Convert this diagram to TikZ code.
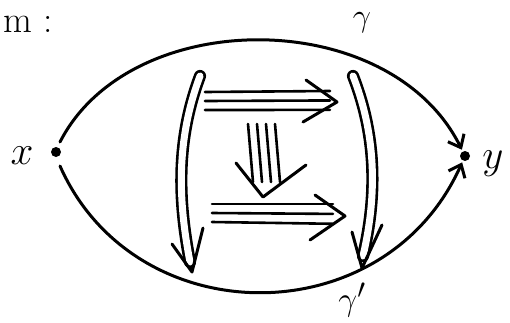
\documentclass[tikz,border=0pt]{standalone}
\usepackage{graphicx}
\usetikzlibrary{arrows.meta}
\newcommand{\biglbl}[2][1.65]{\scalebox{#1}{\Huge #2}}
\begin{document}
\begin{tikzpicture}[x=1pt,y=-1pt,
  stroke/.style={line width=3pt, line cap=round, line join=round},
  curvearrow/.style={stroke, -{Straight Barb[length=11pt,width=18pt,line width=3pt]}, shorten >=7pt},
  bigdouble/.style={line width=2.6pt, double distance=7pt, line cap=round},
  thin3/.style={line width=2.6pt, line cap=round},
  lbl/.style={inner sep=0pt}]
\useasboundingbox (0,0) rectangle (510,322);
% points
\fill (56,152) circle (5) coordinate (X);
\fill (465,156) circle (5) coordinate (Y);
\coordinate (Xt) at (60,142);
\coordinate (Xb) at (60,166);
\node[lbl] (xl) at (22,156) {\biglbl{$x$}};
\node[lbl] (yl) at (493,164) {\biglbl{$y$}};
\node[lbl, anchor=west] (title) at (3,24) {\biglbl[1.5]{m :}};
% curves
\draw[curvearrow] (Xt) .. controls (130,5) and (390,5) .. (Y);
\draw[curvearrow] (Xb) .. controls (135,335) and (385,335) .. (Y);
\node[lbl] (g) at (362,23) {\biglbl[1.3]{$\gamma$}};
\node[lbl] (gp) at (352,300) {\biglbl[1.35]{$\gamma'$}};
% big side arrows
\coordinate (L1) at (200,76);
\coordinate (L2) at (190,262);
\draw[bigdouble] (L1) .. controls (176,140) and (178,200) .. (L2);
\coordinate (LH) at (192,272);
\draw[stroke] (172,244) -- (LH) -- (203,228);
\coordinate (R1) at (353,76);
\coordinate (R2) at (363,256);
\draw[bigdouble] (R1) .. controls (378,140) and (376,200) .. (R2);
\coordinate (RH) at (362,268);
\draw[stroke] (352,232) -- (RH) -- (382,225);
% top triple arrow
\foreach \dy in {0,9,18}{
  \draw[thin3] (205,92+\dy) -- (330,91+\dy*1.05);
}
\coordinate (TH) at (337,102);
\draw[stroke] (306,80) -- (TH) -- (303,122);
% middle quadruple arrow
\foreach \dx in {0,9,18,27}{
  \draw[thin3] (248+\dx,124) -- (253+\dx,182);
}
\coordinate (MH) at (263,197);
\draw[stroke] (236,163) -- (MH) -- (306,165);
% bottom triple arrow
\foreach \dy in {0,9,18}{
  \draw[thin3] (212,204+\dy) -- (333,204+\dy*1.1);
}
\coordinate (BH) at (345,216);
\draw[stroke] (315,195) -- (BH) -- (310,240);
\end{tikzpicture}
\end{document}
